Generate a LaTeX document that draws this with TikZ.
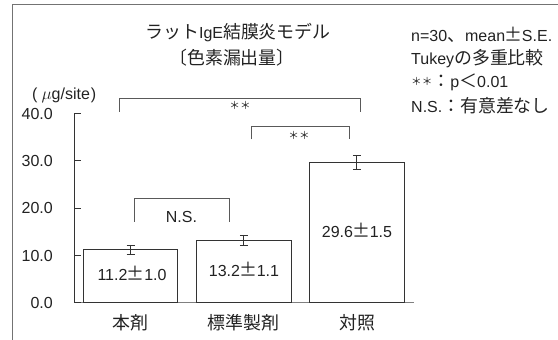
\documentclass[tikz,border=0pt]{standalone}
\usepackage{fontspec}
\setmainfont{Liberation Sans}
\newfontfamily\jp{Noto Sans CJK JP}[Scale=1.12]
\newcommand\fpm{\makebox[1.05em]{\jp ±}}
\newcommand\twostar{{\jp\fontsize{9.5}{9.5}\selectfont ＊＊}}
\definecolor{ink}{HTML}{222222}
\definecolor{lin}{HTML}{333333}
\tikzset{
  every node/.style={font=\fontsize{16}{19}\selectfont, inner sep=0pt, text=ink},
  frameline/.style={draw=black!55, line width=0.9pt},
  barbox/.style={draw=lin, fill=white, line width=0.8pt},
  axisline/.style={draw=lin, line width=0.8pt},
  baseline/.style={draw=black!50, line width=1pt},
  errbar/.style={draw=lin, line width=0.8pt},
  bracketline/.style={draw=black!65, line width=0.8pt}
}
\begin{document}
\begin{tikzpicture}[x=1pt,y=-1pt]
\useasboundingbox (0,0) rectangle (558,340);
% frame (partial)
\draw[frameline] (12,340) -- (12,4) -- (558,4);
% titles
\node (t1) at (238,33) {\jp ラット\normalfont IgE\jp 結膜炎モデル};
\node (t2) at (232,58) {\jp 〔色素漏出量〕};
% legend
\node[anchor=west] (l1) at (411,35) {n=30{\jp 、}mean\fpm S.E.};
\node[anchor=west] (l2) at (411,58.5) {Tukey{\jp の多重比較}};
\node[anchor=west] (l3) at (411,82) {\raisebox{2pt}{\twostar}{\jp ：}p{\jp ＜}0.01};
\node[anchor=west] (l4) at (411,106) {N.S.{\jp ：有意差なし}};
% unit
\node[anchor=west] (unit) at (32,95) {(\kern4pt$\mu$g/site\kern1pt)};
% axis
\draw[baseline] (74.5,302.7) -- (414,302.7);
\draw[axisline] (74.5,302.7) -- (74.5,113.1);
\foreach \v/\lab in {0/0.0,10/10.0,20/20.0,30/30.0,40/40.0}{
  \draw[axisline] (74.5,302.7-\v*4.74) -- (80.5,302.7-\v*4.74);
  \node[anchor=east] (tick\v) at (53,302.7-\v*4.74+0.5) {\lab};
}
% bars
\draw[barbox] (83.3,302.7) rectangle (177.7,249.6);
\draw[barbox] (196.7,302.7) rectangle (291,240.1);
\draw[barbox] (309.3,302.7) rectangle (404.3,162.4);
% error bars
\foreach \cx/\hi/\lo in {130.5/244.9/254.4, 243.8/234.9/245.3, 356.8/155.3/169.5}{
  \draw[errbar] (\cx,\hi) -- (\cx,\lo);
  \draw[errbar] (\cx-4,\hi) -- (\cx+4,\hi);
  \draw[errbar] (\cx-4,\lo) -- (\cx+4,\lo);
}
% value labels
\node (v1) at (132,273.5) {11.2\fpm 1.0};
\node (v2) at (244,269.5) {13.2\fpm 1.1};
\node (v3) at (357,230) {29.6\fpm 1.5};
% category labels
\node (c1) at (130,323) {\jp 本剤};
\node (c2) at (243.5,323) {\jp 標準製剤};
\node (c3) at (357,323) {\jp 対照};
% brackets
\coordinate (b1a) at (134.3,221.7);
\coordinate (b1b) at (229.3,221.7);
\draw[bracketline] (b1a) -- (134.3,198.7) -- (229.3,198.7) -- (b1b);
\node (ns) at (181.5,216.5) {N.S.};
\coordinate (b2a) at (251.5,139.3);
\coordinate (b2b) at (349.3,139.3);
\draw[bracketline] (b2a) -- (251.5,126.7) -- (349.3,126.7) -- (b2b);
\node (s2) at (299,135.5) {\twostar};
\coordinate (b3a) at (119.3,111.7);
\coordinate (b3b) at (360.7,111.7);
\draw[bracketline] (b3a) -- (119.3,98.3) -- (360.7,98.3) -- (b3b);
\node (s3) at (240,105.5) {\twostar};
\end{tikzpicture}
\end{document}
